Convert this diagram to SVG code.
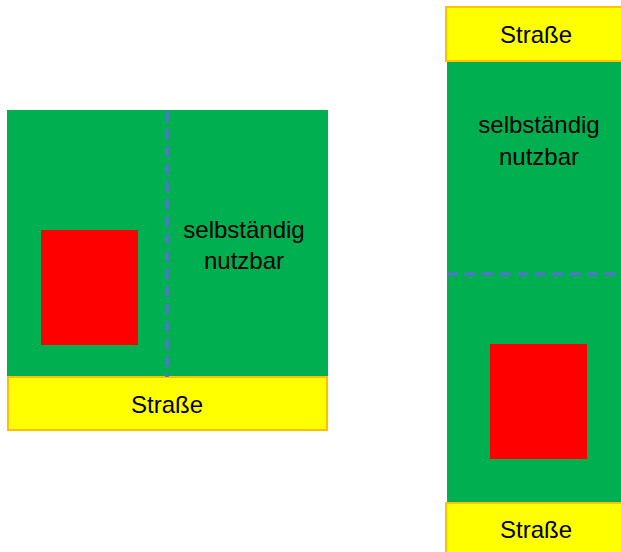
<svg xmlns="http://www.w3.org/2000/svg" width="621" height="552" viewBox="0 0 621 552">
<style>
.plot{fill:#00B050}
.house{fill:#FF0000}
.road{fill:#FFFF00;stroke:#FFC000;stroke-width:2}
.div{stroke:#4F75C8;stroke-width:3.5;stroke-dasharray:11 6.5;fill:none}
.lbl{font-family:"Liberation Sans",Arial,sans-serif;font-size:24px;fill:#000;text-anchor:middle}
</style>
<rect width="621" height="552" fill="#fff"/>
<g id="left-plot">
<rect class="plot" x="7" y="110" width="321" height="268"/>
<rect class="house" x="41" y="230" width="97" height="115"/>
<text class="lbl" x="244" y="238">selbständig</text>
<text class="lbl" x="244" y="269">nutzbar</text>
</g>
<g id="left-road">
<rect class="road" x="8" y="377" width="319" height="53"/>
<text class="lbl" x="167" y="413">Straße</text>
</g>
<g id="right-plot">
<rect class="plot" x="447" y="61" width="180" height="442"/>
<rect class="house" x="490" y="344" width="97" height="115"/>
<text class="lbl" x="539" y="133">selbständig</text>
<text class="lbl" x="539" y="165">nutzbar</text>
</g>
<g id="right-road-top">
<rect class="road" x="446" y="7" width="180" height="54"/>
<text class="lbl" x="536" y="43">Straße</text>
</g>
<g id="right-road-bottom">
<rect class="road" x="446" y="503" width="180" height="54"/>
<text class="lbl" x="536" y="538">Straße</text>
</g>
<g id="connectors">
<line class="div" x1="167" y1="111" x2="167" y2="377"/>
<line class="div" x1="447" y1="274" x2="621" y2="274"/>
</g>
</svg>
